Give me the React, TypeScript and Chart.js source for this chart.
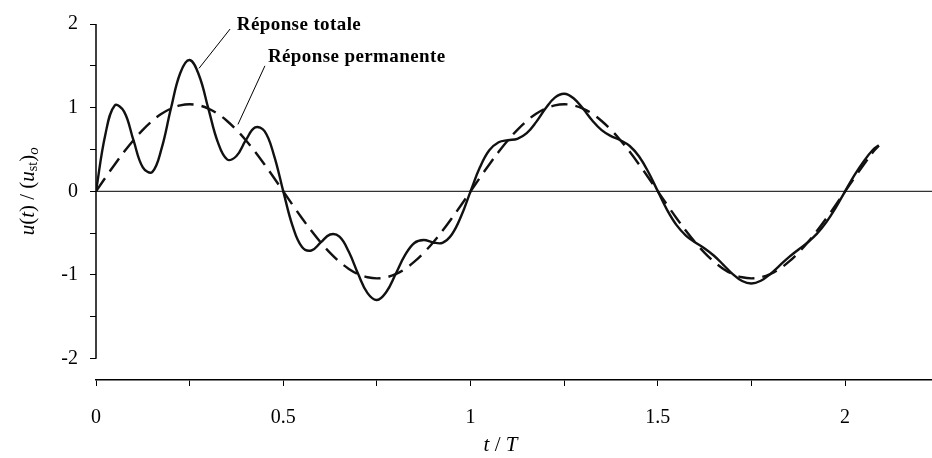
import React, { useEffect, useRef } from 'react';
import { Chart, registerables } from 'chart.js';

Chart.register(...registerables);

// t / T sample instants
const tValues = [
  0, 0.025, 0.05, 0.075, 0.1, 0.125, 0.15, 0.175, 0.2, 0.225,
  0.25, 0.275, 0.3, 0.325, 0.35, 0.375, 0.4, 0.425, 0.45, 0.475,
  0.5, 0.525, 0.55, 0.575, 0.6, 0.625, 0.65, 0.675, 0.7, 0.725,
  0.75, 0.775, 0.8, 0.825, 0.85, 0.875, 0.9, 0.925, 0.95, 0.975,
  1.0, 1.025, 1.05, 1.075, 1.1, 1.125, 1.15, 1.175, 1.2, 1.225,
  1.25, 1.275, 1.3, 1.325, 1.35, 1.375, 1.4, 1.425, 1.45, 1.475,
  1.5, 1.525, 1.55, 1.575, 1.6, 1.625, 1.65, 1.675, 1.7, 1.725,
  1.75, 1.775, 1.8, 1.825, 1.85, 1.875, 1.9, 1.925, 1.95, 1.975,
  2.0, 2.025, 2.05, 2.075, 2.09,
];

// Réponse totale
const totalResponse = [
  0, 0.68, 1.026, 0.953, 0.611, 0.287, 0.23, 0.51, 0.989, 1.415,
  1.569, 1.388, 0.989, 0.591, 0.382, 0.422, 0.611, 0.764, 0.719, 0.434,
  0, -0.416, -0.666, -0.707, -0.611, -0.516, -0.542, -0.723, -0.989, -1.217,
  -1.299, -1.204, -0.989, -0.763, -0.617, -0.582, -0.611, -0.615, -0.516, -0.296,
  0, 0.287, 0.49, 0.587, 0.611, 0.628, 0.695, 0.827, 0.989, 1.12,
  1.167, 1.113, 0.989, 0.847, 0.731, 0.66, 0.611, 0.542, 0.416, 0.228,
  0, -0.224, -0.404, -0.528, -0.611, -0.683, -0.77, -0.878, -0.989, -1.072,
  -1.102, -1.069, -0.989, -0.888, -0.787, -0.698, -0.611, -0.506, -0.368, -0.195,
  0, 0.193, 0.361, 0.5, 0.55,
];

// Réponse permanente
const steadyResponse = [
  0, 0.163, 0.321, 0.472, 0.611, 0.735, 0.841, 0.927, 0.989, 1.027,
  1.04, 1.027, 0.989, 0.927, 0.841, 0.735, 0.611, 0.472, 0.321, 0.163,
  0, -0.163, -0.321, -0.472, -0.611, -0.735, -0.841, -0.927, -0.989, -1.027,
  -1.04, -1.027, -0.989, -0.927, -0.841, -0.735, -0.611, -0.472, -0.321, -0.163,
  0, 0.163, 0.321, 0.472, 0.611, 0.735, 0.841, 0.927, 0.989, 1.027,
  1.04, 1.027, 0.989, 0.927, 0.841, 0.735, 0.611, 0.472, 0.321, 0.163,
  0, -0.163, -0.321, -0.472, -0.611, -0.735, -0.841, -0.927, -0.989, -1.027,
  -1.04, -1.027, -0.989, -0.927, -0.841, -0.735, -0.611, -0.472, -0.321, -0.163,
  0, 0.163, 0.321, 0.472, 0.545,
];

const xTickValues = [0, 0.25, 0.5, 0.75, 1, 1.25, 1.5, 1.75, 2];
const xTickLabels = ['0', '', '0.5', '', '1', '', '1.5', '', '2'];
const yTickValues = [-2, -1.5, -1, -0.5, 0, 0.5, 1, 1.5, 2];
const yTickLabels = ['-2', '', '-1', '', '0', '', '1', '', '2'];

const labelTotal = 'Réponse totale';
const labelSteady = 'Réponse permanente';

const SERIF = '"Liberation Serif", "Times New Roman", serif';

const overlayPlugin = {
  id: 'overlay',
  beforeDatasetsDraw(chart: any) {
    const { ctx, chartArea } = chart;
    const x = chart.scales.x;
    const y = chart.scales.y;
    ctx.save();
    // zero line
    ctx.strokeStyle = '#333';
    ctx.lineWidth = 1.2;
    ctx.beginPath();
    ctx.moveTo(x.getPixelForValue(0), y.getPixelForValue(0));
    ctx.lineTo(chartArea.right, y.getPixelForValue(0));
    ctx.stroke();
    // y axis line from -2 to 2
    ctx.strokeStyle = '#000';
    ctx.lineWidth = 1.5;
    const x0 = x.getPixelForValue(0);
    ctx.beginPath();
    ctx.moveTo(x0, y.getPixelForValue(2));
    ctx.lineTo(x0, y.getPixelForValue(-2));
    ctx.stroke();
    ctx.restore();
  },
  afterDraw(chart: any) {
    const { ctx } = chart;
    const x = chart.scales.x;
    const y = chart.scales.y;
    ctx.save();

    // annotations
    ctx.fillStyle = '#000';
    ctx.strokeStyle = '#000';
    ctx.lineWidth = 1;
    ctx.font = `bold 19px ${SERIF}`;
    try { (ctx as any).letterSpacing = '0.4px'; } catch (e) {}
    ctx.textBaseline = 'alphabetic';
    ctx.textAlign = 'left';
    ctx.fillText(labelTotal, x.getPixelForValue(0.376), y.getPixelForValue(1.93));
    ctx.fillText(labelSteady, x.getPixelForValue(0.459), y.getPixelForValue(1.54));
    try { (ctx as any).letterSpacing = '0px'; } catch (e) {}

    ctx.beginPath();
    ctx.moveTo(x.getPixelForValue(0.358), y.getPixelForValue(1.94));
    ctx.lineTo(x.getPixelForValue(0.275), y.getPixelForValue(1.47));
    ctx.moveTo(x.getPixelForValue(0.451), y.getPixelForValue(1.5));
    ctx.lineTo(x.getPixelForValue(0.379), y.getPixelForValue(0.8));
    ctx.stroke();

    const drawPieces = (pieces: { t: string; f: string; dy: number }[]) => {
      let total = 0;
      for (const p of pieces) {
        ctx.font = p.f;
        total += ctx.measureText(p.t).width;
      }
      let cx = -total / 2;
      for (const p of pieces) {
        ctx.font = p.f;
        ctx.fillText(p.t, cx, p.dy);
        cx += ctx.measureText(p.t).width;
      }
    };

    // x title: t / T
    ctx.textBaseline = 'middle';
    ctx.save();
    ctx.translate(x.getPixelForValue(1.08), 445);
    drawPieces([
      { t: 't', f: `italic 21px ${SERIF}`, dy: 0 },
      { t: ' / ', f: `21px ${SERIF}`, dy: 0 },
      { t: 'T', f: `italic 21px ${SERIF}`, dy: 0 },
    ]);
    ctx.restore();

    // y title: u(t) / (u_st)_o
    ctx.save();
    ctx.translate(28, y.getPixelForValue(0));
    ctx.rotate(-Math.PI / 2);
    drawPieces([
      { t: 'u', f: `italic 21px ${SERIF}`, dy: 0 },
      { t: '(', f: `21px ${SERIF}`, dy: 0 },
      { t: 't', f: `italic 21px ${SERIF}`, dy: 0 },
      { t: ') / (', f: `21px ${SERIF}`, dy: 0 },
      { t: 'u', f: `italic 21px ${SERIF}`, dy: 0 },
      { t: 'st', f: `14px ${SERIF}`, dy: 5 },
      { t: ')', f: `21px ${SERIF}`, dy: 0 },
      { t: 'o', f: `italic 15px ${SERIF}`, dy: 6 },
    ]);
    ctx.restore();

    ctx.restore();
  },
};

export default function App() {
  const canvasRef = useRef<HTMLCanvasElement | null>(null);

  useEffect(() => {
    const canvas = canvasRef.current;
    if (!canvas) return;
    const totalData = tValues.map((t, i) => ({ x: t, y: totalResponse[i] }));
    const steadyData = tValues.map((t, i) => ({ x: t, y: steadyResponse[i] }));

    const chart = new Chart(canvas, {
      type: 'line',
      data: {
        datasets: [
          {
            label: labelSteady,
            data: steadyData,
            borderColor: '#111',
            borderWidth: 2.4,
            borderDash: [16, 8],
            pointRadius: 0,
            tension: 0.4,
            fill: false,
          },
          {
            label: labelTotal,
            data: totalData,
            borderColor: '#111',
            borderWidth: 2.4,
            pointRadius: 0,
            tension: 0.4,
            fill: false,
          },
        ],
      },
      options: {
        responsive: false,
        animation: false,
        devicePixelRatio: 1,
        layout: { padding: { top: 20, right: 0, left: 0, bottom: 0 } },
        plugins: {
          legend: { display: false },
          tooltip: { enabled: false },
          title: { display: false },
        },
        scales: {
          x: {
            type: 'linear',
            min: 0,
            max: 2.232,
            afterFit: (scale: any) => { scale.height = 78; },
            afterBuildTicks: (scale: any) => {
              scale.ticks = xTickValues.map((v) => ({ value: v }));
            },
            ticks: {
              autoSkip: false,
              maxRotation: 0,
              color: '#000',
              padding: 20,
              font: { family: SERIF, size: 20 },
              callback: (v: any) => {
                const i = xTickValues.indexOf(Number(v));
                return i >= 0 ? xTickLabels[i] : '';
              },
            },
            grid: {
              display: true,
              drawOnChartArea: false,
              drawTicks: true,
              tickLength: 6,
              color: '#000',
              lineWidth: 1,
            },
            border: { display: true, color: '#000', width: 1.5 },
          },
          y: {
            type: 'linear',
            min: -2.255,
            max: 2,
            afterFit: (scale: any) => { scale.width = 96; },
            afterBuildTicks: (scale: any) => {
              scale.ticks = yTickValues.map((v) => ({ value: v }));
            },
            ticks: {
              autoSkip: false,
              color: '#000',
              padding: 12,
              font: { family: SERIF, size: 20 },
              callback: (v: any) => {
                const i = yTickValues.indexOf(Number(v));
                return i >= 0 ? yTickLabels[i] : '';
              },
            },
            grid: {
              display: true,
              drawOnChartArea: false,
              drawTicks: true,
              tickLength: 6,
              color: '#000',
              lineWidth: 1,
            },
            border: { display: false },
          },
        },
      },
      plugins: [overlayPlugin],
    });

    return () => chart.destroy();
  }, []);

  return (
    <div style={{ position: 'absolute', left: 0, top: 0, width: 932, height: 458, background: '#fff' }}>
      <canvas ref={canvasRef} width={932} height={458} style={{ width: 932, height: 458, display: 'block' }} />
    </div>
  );
}
